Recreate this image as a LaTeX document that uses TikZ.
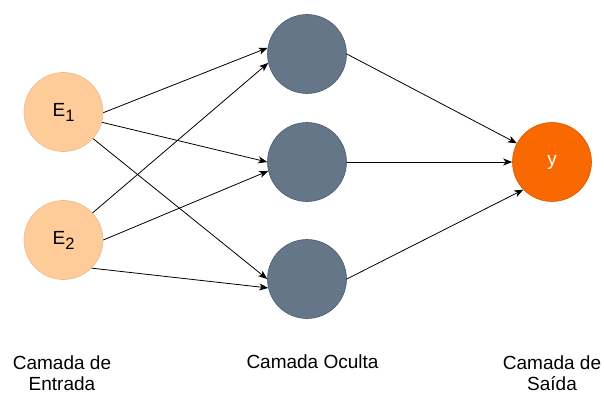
\documentclass[tikz,border=0pt]{standalone}
\usepackage{fontspec}
\setmainfont{Liberation Sans}
\usepackage{tikz}
\usetikzlibrary{arrows.meta,positioning}

\definecolor{inFill}{HTML}{FFCC99}
\definecolor{inLine}{HTML}{E0BC96}
\definecolor{hidFill}{HTML}{647687}
\definecolor{hidLine}{HTML}{4A5A6B}
\definecolor{outFill}{HTML}{FA6800}
\definecolor{outLine}{HTML}{D95A00}

% lowered index for the input labels
\newcommand{\lowidx}[1]{\raisebox{-5pt}{\fontsize{16.5}{16.5}\selectfont #1}}

\begin{document}
\begin{tikzpicture}[x=1pt,y=1pt,
    neuron/.style={circle,minimum size=79pt,inner sep=0pt,line width=0.6pt,
      font=\fontsize{19}{21}\selectfont},
    inneuron/.style={neuron,fill=inFill,draw=inLine},
    hidneuron/.style={neuron,fill=hidFill,draw=hidLine},
    outneuron/.style={neuron,fill=outFill,draw=outLine,text=white},
    layername/.style={align=center,anchor=base,inner sep=0pt,
      font=\fontsize{19}{21}\selectfont},
    link/.style={line width=0.8pt,-{Stealth[length=9pt,width=7pt,inset=2.5pt]}}]
  \useasboundingbox (0,0) rectangle (604,394);

  % input layer
  \node[inneuron] (e1) at (63.5,282) {E\lowidx{1}};
  \node[inneuron] (e2) at (63.5,154) {E\lowidx{2}};

  % hidden layer
  \node[hidneuron] (h1) at (307,340) {};
  \node[hidneuron] (h2) at (307,232) {};
  \node[hidneuron] (h3) at (307,115) {};

  % output layer
  \node[outneuron] (y) at (552,232) {y};

  % input -> hidden
  \draw[link] (e1.-1.5) -- (h1.171);
  \draw[link] (e2.43.5) -- (h1.193);
  \draw[link] (e1.345) -- (h2.180);
  \draw[link] (e2.0) -- (h2.193);
  \draw[link] (e1.318.6) -- (h3.180);
  \draw[link] (e2.315.5) -- (h3.193);

  % hidden -> output
  \draw[link] (h1.0) -- (y.152);
  \draw[link] (h2.0) -- (y.180);
  \draw[link] (h3.0) -- (y.224);

  % layer names (base = last line)
  \node[layername] (lin) at (62,4) {Camada de\\Entrada};
  \node[layername] (lhid) at (312.5,26) {Camada Oculta};
  \node[layername] (lout) at (552,4) {Camada de\\Saída};
\end{tikzpicture}
\end{document}
